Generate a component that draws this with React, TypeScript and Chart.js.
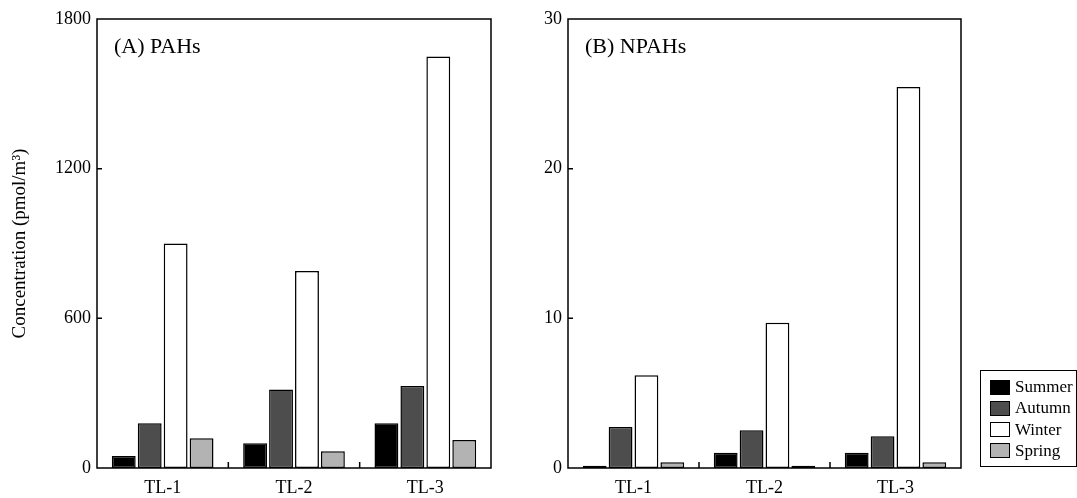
import React, { useEffect, useRef } from "react";
import { Chart, registerables } from "chart.js";
Chart.register(...registerables);

const categories = ["TL-1", "TL-2", "TL-3"];
const seasons = ["Summer", "Autumn", "Winter", "Spring"];
const seasonColors = ["#000000", "#4d4d4d", "#ffffff", "#b3b3b3"];

const pahSummer = [48, 99, 179];
const pahAutumn = [179, 315, 329];
const pahWinter = [900, 790, 1650];
const pahSpring = [119, 67, 112];

const npahSummer = [0.15, 1.02, 1.02];
const npahAutumn = [2.74, 2.52, 2.12];
const npahWinter = [6.2, 9.7, 25.45];
const npahSpring = [0.38, 0.15, 0.38];

const pahTicks = [0, 600, 1200, 1800];
const npahTicks = [0, 10, 20, 30];

const FONT = '"Liberation Serif", "Times New Roman", serif';

function framePlugin(label: string, tickValues: number[]) {
  return {
    id: "frame",
    afterDatasetsDraw(chart: any) {
      const { ctx, chartArea: a, scales } = chart;
      ctx.save();
      ctx.strokeStyle = "#000";
      ctx.lineWidth = 1.5;
      ctx.beginPath();
      ctx.moveTo(a.left, a.bottom);
      ctx.lineTo(a.left, a.top);
      ctx.lineTo(a.right, a.top);
      ctx.lineTo(a.right, a.bottom);
      ctx.closePath();
      const y = scales.y;
      tickValues.forEach((v) => {
        const py = y.getPixelForValue(v);
        ctx.moveTo(a.left, py);
        ctx.lineTo(a.left + 5, py);
      });
      const x = scales.x;
      for (let i = 1; i < categories.length; i++) {
        const px = (x.getPixelForValue(i - 1) + x.getPixelForValue(i)) / 2;
        ctx.moveTo(px, a.bottom);
        ctx.lineTo(px, a.bottom - 6);
      }
      ctx.stroke();
      ctx.font = "22px " + FONT;
      ctx.fillStyle = "#000";
      ctx.textBaseline = "alphabetic";
      ctx.textAlign = "left";
      ctx.fillText(label, a.left + 17, a.top + 34);
      ctx.restore();
    },
  };
}

function makeDatasets(series: number[][]) {
  return series.map((data, i) => ({
    label: seasons[i],
    data,
    backgroundColor: seasonColors[i],
    borderColor: "#000",
    borderWidth: 1.5,
    borderSkipped: false,
    categoryPercentage: 0.79,
    barPercentage: 0.92,
  }));
}

function makeChart(
  canvas: HTMLCanvasElement,
  series: number[][],
  max: number,
  ticks: number[],
  label: string,
  yWidth: number,
  rightPad: number,
  yTitle: string | null
) {
  return new Chart(canvas, {
    type: "bar",
    data: { labels: categories, datasets: makeDatasets(series) as any },
    options: {
      responsive: false,
      maintainAspectRatio: false,
      animation: false,
      layout: { padding: { left: 0, right: rightPad, top: 19, bottom: 0 } },
      plugins: { legend: { display: false }, tooltip: { enabled: false } },
      scales: {
        x: {
          grid: { display: false, drawTicks: false },
          border: { display: false },
          ticks: { color: "#000", font: { family: FONT, size: 18 }, padding: 9 },
          afterFit: (s: any) => {
            s.height = 30;
          },
        },
        y: {
          min: 0,
          max,
          grid: { display: false, drawTicks: false },
          border: { display: false },
          ticks: {
            color: "#000",
            font: { family: FONT, size: 18 },
            padding: 6,
            callback: (v: any) => String(v),
          },
          afterBuildTicks: (s: any) => {
            s.ticks = ticks.map((v) => ({ value: v }));
          },
          title: yTitle
            ? {
                display: true,
                text: yTitle,
                color: "#000",
                font: { family: FONT, size: 19 },
                padding: { top: 9, bottom: 0 },
              }
            : { display: false },
          afterFit: (s: any) => {
            s.width = yWidth;
          },
        },
      },
    },
    plugins: [framePlugin(label, ticks)],
  } as any);
}

export default function App() {
  const ref1 = useRef<HTMLCanvasElement>(null);
  const ref2 = useRef<HTMLCanvasElement>(null);
  useEffect(() => {
    const c1 = makeChart(
      ref1.current!,
      [pahSummer, pahAutumn, pahWinter, pahSpring],
      1800,
      pahTicks,
      "(A) PAHs",
      97,
      540 - 491,
      "Concentration (pmol/m³)"
    );
    const c2 = makeChart(
      ref2.current!,
      [npahSummer, npahAutumn, npahWinter, npahSpring],
      30,
      npahTicks,
      "(B) NPAHs",
      28,
      537 - (961 - 540),
      null
    );
    return () => {
      c1.destroy();
      c2.destroy();
    };
  }, []);

  return (
    <div style={{ position: "absolute", left: 0, top: 0, width: 1077, height: 498, background: "#fff" }}>
      <canvas ref={ref1} width={540} height={498} style={{ position: "absolute", left: 0, top: 0, width: 540, height: 498 }} />
      <canvas ref={ref2} width={537} height={498} style={{ position: "absolute", left: 540, top: 0, width: 537, height: 498 }} />
      <div
        style={{
          position: "absolute",
          left: 980,
          top: 370,
          width: 97,
          height: 97,
          border: "1.5px solid #000",
          boxSizing: "border-box",
          fontFamily: FONT,
          fontSize: 17,
          color: "#000",
        }}
      >
        {seasons.map((s, i) => (
          <div key={s} style={{ position: "absolute", left: 9, top: 8 + i * 21.3, height: 16, display: "flex", alignItems: "center" }}>
            <span
              style={{
                display: "inline-block",
                width: 20,
                height: 15,
                background: seasonColors[i],
                border: "1px solid #000",
                boxSizing: "border-box",
                marginRight: 5,
              }}
            />
            <span style={{ lineHeight: "16px" }}>{s}</span>
          </div>
        ))}
      </div>
    </div>
  );
}
